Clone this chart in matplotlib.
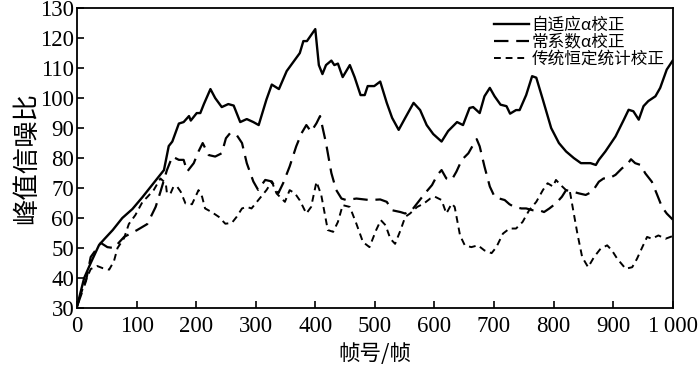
import numpy as np
import matplotlib

matplotlib.use("Agg")
import matplotlib.pyplot as plt

# frame index / PSNR
adaptive_x = [0, 12, 23, 37, 46, 60, 76, 93, 110, 126, 146, 154, 160, 171, 179, 188, 191, 201, 207,
              213, 224, 232, 243, 254, 263, 274, 285, 296, 305, 318, 327, 339, 352, 363, 374, 380,
              386, 400, 406, 412, 418, 427, 432, 438, 446, 458, 466, 476, 483, 488, 499, 509, 520,
              529, 540, 551, 565, 576, 587, 598, 612, 623, 638, 648, 659, 665, 676, 684, 693, 701,
              711, 721, 727, 737, 743, 754, 764, 771, 782, 796, 809, 821, 834, 846, 862, 871, 876,
              887, 904, 918, 926, 934, 943, 951, 959, 971, 979, 990, 1000]
adaptive_y = [30.5, 40, 45, 51, 53, 56, 60, 63, 67, 71, 76, 84, 85.5, 91.5, 92, 94, 92.5, 95, 95,
              98, 103, 100, 97, 98, 97.5, 92, 93, 92, 91, 99.5, 104.5, 103, 109, 112, 115, 119,
              119, 123, 111, 108, 111, 112.5, 111, 111.5, 107, 111, 107, 101, 101, 104, 104, 105.5,
              98.4, 93.4, 89.4, 93.4, 98.4, 96, 91, 88, 85.5, 89, 92, 91, 96.7, 97, 95, 100.6,
              103.4, 100.6, 97.8, 97.3, 94.8, 96, 96, 101, 107.3, 106.8, 99.5, 90, 85, 82.2, 80,
              78.3, 78.3, 77.7, 79.4, 82.2, 87.2, 92.8, 96.1, 95.6, 92.8, 97.3, 99, 100.6, 103.4,
              109.5, 112.5]

const_x = [0, 15, 23, 40, 51, 62, 79, 101, 118, 132, 140, 151, 160, 171, 179, 185, 196, 204, 211,
           221, 232, 243, 250, 257, 268, 277, 285, 296, 304, 316, 327, 338, 346, 357, 368, 377,
           385, 393, 402, 408, 418, 427, 435, 444, 452, 469, 491, 509, 520, 529, 543, 551, 562,
           573, 584, 596, 605, 612, 620, 629, 637, 646, 657, 665, 671, 676, 684, 693, 701, 709,
           718, 726, 734, 746, 754, 765, 776, 784, 793, 804, 814, 821, 832, 843, 854, 865, 876,
           884, 893, 904, 915, 923, 930, 937, 946, 954, 965, 973, 982, 990, 1000]
const_y = [30.5, 39, 47, 51.7, 50.3, 50, 53.7, 56, 58, 63.7, 68.7, 76, 80.5, 79.4, 79.4, 75.5,
           78.3, 82.2, 85, 81, 80.5, 81.6, 86.6, 88.3, 87.7, 85, 78.3, 72.2, 69.4, 72.7, 72.2,
           68.3, 71.6, 77.2, 83.9, 88.3, 91, 88.8, 91.6, 94, 85, 75, 69.4, 66.5, 66, 66.5, 66, 66.2,
           65.4, 62.6, 62, 61.5, 62.6, 65.4, 68.2, 71, 74.4, 76, 73.2, 72.7, 75.5, 79.4, 81.6,
           84.4, 86.3, 83.9, 77.2, 70.5, 67.1, 66.5, 66, 64.6, 63.7, 63.2, 63.2, 62.6, 62.6, 62,
           63.2, 64.9, 67.1, 69.3, 68.8, 68.2, 67.7, 68.8, 72.1, 73.2, 73.2, 74.4, 76.6, 77.7,
           79.6, 78.3, 77.7, 74.9, 72.1, 68.2, 63.7, 61.5, 59.5]

trad_x = [0, 12, 23, 34, 43, 54, 62, 68, 79, 87, 98, 110, 118, 129, 140, 149, 151, 157, 162, 168,
          174, 182, 193, 204, 210, 215, 226, 238, 249, 260, 268, 277, 285, 293, 304, 318, 327, 335,
          349, 357, 366, 374, 385, 393, 402, 410, 421, 430, 438, 446, 458, 469, 480, 491, 502, 510,
          518, 526, 534, 543, 551, 559, 571, 582, 593, 601, 612, 620, 629, 634, 643, 651, 662, 673,
          684, 696, 704, 715, 726, 737, 748, 759, 771, 782, 790, 799, 804, 812, 821, 827, 832, 840,
          848, 858, 868, 879, 890, 898, 907, 921, 932, 940, 949, 957, 965, 976, 988, 1000]
trad_y = [30.5, 38, 43, 44, 43.3, 42.8, 45.6, 50, 53.3, 58, 61, 65.4, 67, 69.4, 73.2, 71.6, 68.2,
          68.2, 70.5, 70.5, 68.8, 64.9, 64.6, 69.3, 67.1, 63.2, 62, 60.4, 58.1, 58.4, 60.4, 63.2,
          63.7, 63.2, 65.9, 69.3, 72.1, 68.2, 65.4, 69.3, 68.2, 65.9, 61.5, 63.7, 72.1, 67.7, 56,
          55.4, 58.7, 64.3, 63.7, 58.1, 52, 50.3, 55.9, 59.3, 57.6, 53.1, 51.4, 55.9, 60.4, 61.5,
          63.7, 64.8, 66.5, 67.1, 66, 61.5, 64.8, 63.7, 54.2, 50.9, 50.3, 50.9, 49.2, 48.3, 50.3,
          54.8, 56.5, 56.5, 58.7, 62.6, 65.4, 69.3, 71.6, 70.5, 72.7, 71, 69.3, 69.3, 63.7, 54.8,
          47, 43.6, 47, 49.8, 50.9, 49.2, 46.4, 43.1, 43.6, 46.4, 50.3, 53.7, 53.1, 54.2, 53.1, 54]

labels = ["自适应α校正", "常系数α校正", "传统恒定统计校正"]
x_ticks = [0, 100, 200, 300, 400, 500, 600, 700, 800, 900, 1000]
x_tick_labels = ["0", "100", "200", "300", "400", "500", "600", "700", "800", "900", "1\u2009000"]
y_ticks = list(range(30, 131, 10))

FONT = ["Liberation Serif", "Noto Sans CJK SC", "DejaVu Sans"]
plt.rcParams["font.family"] = FONT


def main():
    fig = plt.figure(figsize=(7.0, 3.68), dpi=100)
    ax = fig.add_axes([0.11, 0.163, 0.851, 0.815])

    ax.plot(adaptive_x, adaptive_y, color="black", lw=1.7, label=labels[0])
    ax.plot(const_x, const_y, color="black", lw=1.6, dashes=(6.5, 3.5), label=labels[1])
    ax.plot(trad_x, trad_y, color="black", lw=1.4, dashes=(3.5, 2.5), label=labels[2])

    ax.set_xlim(0, 1000)
    ax.set_ylim(30, 130)
    ax.set_xticks(x_ticks)
    ax.set_xticklabels(x_tick_labels)
    ax.set_yticks(y_ticks)
    ax.tick_params(direction="in", length=5, width=1.2, labelsize=16.5,
                   top=False, right=False)
    ax.tick_params(axis="x", pad=6)
    ax.tick_params(axis="y", pad=2)
    for sp in ax.spines.values():
        sp.set_linewidth(1.3)

    ax.set_xlabel("帧号/帧", fontsize=15.5, family=["Noto Sans CJK SC"], labelpad=4)
    ax.set_ylabel("峰值信噪比", fontsize=19, family=["Noto Sans CJK SC"], labelpad=0)

    ax.legend(loc="upper right", frameon=False, handlelength=2.1,
              handletextpad=0.15, labelspacing=0.0, borderaxespad=0.1,
              borderpad=0.4,
              prop={"family": ["Noto Sans CJK SC", "DejaVu Sans"], "size": 12})

    fig.savefig("out.png", dpi=100)
    plt.close(fig)


if __name__ == "__main__":
    main()
